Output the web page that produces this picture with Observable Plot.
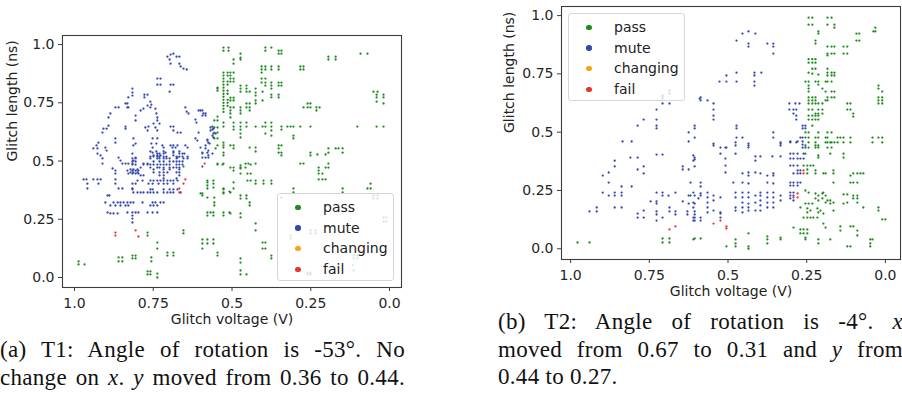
<!DOCTYPE html>
<html>
<head>
<meta charset="utf-8">
<script src="https://cdn.jsdelivr.net/npm/d3@7"></script>
<script src="https://cdn.jsdelivr.net/npm/@observablehq/plot@0.6"></script>
<style>
  html, body { margin: 0; padding: 0; background: #fff; overflow: hidden; }
  #fig { position: relative; width: 902px; height: 393px; overflow: hidden; }
  .panel { position: absolute; top: 0; }
  .legend { position: absolute; box-sizing: border-box; width: 117px; height: 88px;
    border: 1px solid #d6d6d6; border-radius: 3px; background: rgba(255,255,255,0.8);
    font: 14px "DejaVu Sans", sans-serif; color: #222; padding-top: 3px; }
  .legend .row { position: relative; height: 20.7px; line-height: 20.7px; }
  .legend .sw { position: absolute; left: 17px; top: 7.6px; width: 5.5px; height: 5.5px; border-radius: 50%; }
  .legend .lb { position: absolute; left: 45px; top: 0; }
  .caption { position: absolute; width: 405px; font: 23px "Liberation Serif", serif;
    line-height: 27.6px; color: #111; letter-spacing: 0.3px; }
  .caption .j { text-align: justify; text-align-last: justify; }
  .caption .l { text-align: left; }
</style>
</head>
<body>
<div id="fig"></div>
<script>
// Outcome categories of the glitch campaign and their colours
const statuses = ["pass", "mute", "changing", "fail"];
const statusColors = ["#1e8a1e", "#3447b2", "#f5a31c", "#e3372b"];

// Axis ticks (voltage axis runs from 1.0 down to 0.0)
const xTicks = [1.0, 0.75, 0.5, 0.25, 0.0];
const xTickLabels = ["1.0", "0.75", "0.5", "0.25", "0.0"];
const yTicks = [0.0, 0.25, 0.5, 0.75, 1.0];
const yTickLabels = ["0.0", "0.25", "0.5", "0.75", "1.0"];

// T1 measurements: [glitch voltage (V), glitch length (ns)]
const t1Pass = [
  [0.987,0.069],[0.987,0.056],[0.968,0.056],
  [0.860,0.086],[0.848,0.086],[0.860,0.069],[0.848,0.069],
  [0.816,0.094],[0.806,0.094],[0.816,0.082],[0.806,0.082],
  [0.768,0.193],[0.768,0.180],[0.756,0.086],[0.756,0.069],
  [0.768,0.026],[0.759,0.026],[0.768,0.013],[0.759,0.013],[0.737,0.017],[0.737,0.000],
  [0.737,0.150],[0.737,0.124],
  [0.705,0.107],[0.705,0.094],[0.686,0.107],[0.686,0.094],
  [0.654,0.202],[0.654,0.189],[0.654,0.476],
  [0.594,0.361],[0.594,0.352],[0.578,0.408],[0.578,0.395],[0.578,0.382],[0.559,0.403],[0.559,0.386],
  [0.578,0.343],[0.556,0.343],[0.556,0.322],[0.556,0.309],
  [0.578,0.279],[0.568,0.279],[0.578,0.266],[0.559,0.279],[0.559,0.266],
  [0.527,0.378],[0.527,0.361],[0.508,0.369],
  [0.527,0.279],[0.527,0.266],[0.508,0.279],
  [0.594,0.163],[0.594,0.146],[0.578,0.163],[0.578,0.146],[0.559,0.163],[0.559,0.146],[0.594,0.124],
  [0.546,0.107],[0.546,0.094],
  [0.546,0.485],[0.530,0.485],
  [0.527,0.987],[0.527,0.974],[0.511,0.987],[0.511,0.974],
  [0.527,0.880],[0.527,0.867],[0.527,0.854],[0.527,0.841],[0.527,0.828],[0.527,0.815],[0.527,0.802],
  [0.527,0.789],[0.527,0.776],[0.527,0.763],[0.527,0.750],[0.527,0.737],[0.527,0.724],[0.527,0.711],
  [0.514,0.880],[0.514,0.867],[0.514,0.841],[0.514,0.828],[0.514,0.802],[0.514,0.789],[0.514,0.763],[0.514,0.750],[0.514,0.737],
  [0.505,0.880],[0.505,0.867],[0.505,0.854],[0.505,0.841],[0.505,0.772],[0.505,0.760],[0.505,0.730],[0.505,0.717],[0.505,0.704],[0.505,0.687],
  [0.495,0.880],[0.495,0.854],[0.495,0.841],[0.495,0.772],[0.495,0.760],[0.495,0.730],
  [0.546,0.815],[0.546,0.802],
  [0.556,0.674],[0.546,0.674],[0.556,0.644],[0.546,0.644],[0.556,0.622],[0.546,0.622],[0.556,0.597],[0.546,0.597],
  [0.594,0.532],[0.546,0.489],[0.527,0.558],
  [0.473,0.961],[0.473,0.944],[0.473,0.936],[0.495,0.936],[0.495,0.918],
  [0.394,0.987],[0.394,0.974],[0.375,0.987],
  [0.352,0.974],[0.343,0.974],[0.352,0.961],[0.343,0.961],
  [0.194,0.948],[0.194,0.936],[0.171,0.948],[0.171,0.936],
  [0.092,0.961],[0.070,0.961],
  [0.406,0.906],[0.394,0.906],[0.406,0.893],[0.394,0.893],[0.406,0.880],[0.375,0.906],[0.375,0.893],[0.352,0.906],[0.352,0.893],
  [0.283,0.906],[0.273,0.906],[0.283,0.893],[0.273,0.893],
  [0.546,0.811],
  [0.473,0.824],[0.473,0.811],[0.473,0.798],[0.454,0.824],[0.454,0.811],[0.454,0.798],[0.444,0.798],
  [0.425,0.811],[0.425,0.794],[0.425,0.781],[0.425,0.760],[0.425,0.747],[0.403,0.798],[0.403,0.760],
  [0.406,0.854],[0.394,0.854],[0.406,0.837],[0.394,0.837],[0.394,0.824],[0.375,0.837],[0.375,0.824],[0.375,0.811],
  [0.352,0.837],[0.343,0.837],[0.352,0.824],[0.343,0.824],
  [0.375,0.785],[0.375,0.773],[0.352,0.785],[0.352,0.773],
  [0.454,0.747],[0.444,0.747],[0.454,0.730],[0.444,0.730],[0.444,0.717],
  [0.473,0.730],[0.473,0.717],[0.473,0.704],
  [0.273,0.730],[0.260,0.747],[0.251,0.747],[0.260,0.730],[0.251,0.730],[0.232,0.730],[0.222,0.730],[0.232,0.717],
  [0.051,0.798],[0.038,0.798],[0.041,0.785],[0.041,0.773],[0.041,0.755],[0.019,0.785],[0.019,0.773],[0.019,0.747],
  [0.546,0.691],
  [0.527,0.665],[0.527,0.648],[0.495,0.665],[0.495,0.648],[0.495,0.635],[0.473,0.665],[0.473,0.648],[0.473,0.635],
  [0.473,0.618],[0.473,0.601],[0.454,0.665],[0.454,0.648],
  [0.425,0.648],[0.403,0.648],[0.394,0.665],[0.394,0.648],[0.375,0.665],[0.375,0.648],[0.375,0.631],[0.375,0.609],
  [0.394,0.618],[0.343,0.648],[0.343,0.635],
  [0.324,0.648],[0.314,0.648],[0.305,0.648],[0.283,0.648],[0.251,0.648],[0.305,0.609],[0.305,0.597],
  [0.102,0.648],[0.041,0.648],[0.019,0.648],
  [0.546,0.567],[0.527,0.579],[0.527,0.567],[0.505,0.567],[0.495,0.567],[0.495,0.554],[0.552,0.554],
  [0.527,0.536],[0.527,0.524],
  [0.444,0.558],[0.425,0.558],[0.425,0.541],
  [0.352,0.567],[0.343,0.567],[0.352,0.554],[0.352,0.536],[0.343,0.536],[0.343,0.524],
  [0.251,0.536],[0.251,0.524],[0.229,0.528],
  [0.194,0.554],[0.194,0.536],[0.203,0.528],[0.171,0.554],[0.162,0.554],[0.149,0.554],[0.149,0.536],
  [0.527,0.489],
  [0.457,0.489],[0.448,0.489],[0.425,0.489],[0.457,0.472],
  [0.505,0.472],[0.495,0.472],[0.473,0.472],
  [0.283,0.489],[0.273,0.489],[0.225,0.472],[0.203,0.472],[0.194,0.472],[0.194,0.489],
  [0.495,0.459],[0.473,0.481],[0.473,0.468],[0.473,0.446],[0.441,0.485],[0.451,0.446],[0.441,0.446],
  [0.225,0.459],[0.225,0.446],[0.213,0.446],
  [0.578,0.416],[0.559,0.416],[0.495,0.408],[0.451,0.416],[0.441,0.416],[0.425,0.416],[0.425,0.403],
  [0.400,0.416],[0.400,0.403],[0.375,0.416],[0.375,0.403],
  [0.225,0.421],[0.213,0.421],[0.203,0.421],
  [0.600,0.361],[0.527,0.382],[0.527,0.365],[0.505,0.365],[0.495,0.382],
  [0.473,0.352],[0.473,0.339],[0.454,0.352],[0.454,0.339],[0.444,0.322],[0.444,0.309],
  [0.305,0.382],[0.305,0.365],
  [0.149,0.382],[0.149,0.365],[0.070,0.382],[0.060,0.403],[0.060,0.382],
  [0.505,0.275],[0.473,0.275],[0.473,0.258],
  [0.425,0.232],[0.425,0.202],
  [0.403,0.150],[0.394,0.150],[0.403,0.124],[0.394,0.124],
  [0.375,0.094],[0.375,0.082],
  [0.473,0.082],[0.473,0.064],
  [0.473,0.030],[0.454,0.013],[0.473,0.013],
  [0.343,0.343],[0.051,0.352],[0.038,0.352],[0.051,0.339],[0.038,0.339],
  [0.019,0.258],[0.010,0.258],[0.019,0.240],[0.010,0.240],
  [0.251,0.202],[0.235,0.202],[0.251,0.189],[0.235,0.189],[0.314,0.180],[0.314,0.167],
  [0.114,0.094],[0.102,0.094],[0.114,0.082],[0.102,0.082],
  [0.117,0.052],[0.114,0.030],
  [0.260,0.021],[0.251,0.021],[0.260,0.013],[0.251,0.013]
];
const t1Mute = [
  [0.705,0.948],[0.695,0.957],[0.686,0.961],[0.676,0.948],[0.667,0.948],
  [0.698,0.936],[0.695,0.918],
  [0.667,0.918],[0.663,0.906],[0.654,0.897],[0.644,0.893],
  [0.737,0.854],[0.727,0.854],[0.737,0.828],[0.727,0.828],
  [0.695,0.828],[0.686,0.828],[0.698,0.798],
  [0.816,0.811],[0.816,0.794],[0.816,0.781],
  [0.829,0.773],[0.832,0.747],[0.829,0.730],
  [0.778,0.785],[0.768,0.785],[0.778,0.773],
  [0.759,0.755],[0.756,0.742],[0.759,0.730],
  [0.838,0.747],[0.832,0.730],[0.870,0.730],[0.860,0.730],
  [0.886,0.704],[0.892,0.687],
  [0.908,0.639],[0.898,0.639],[0.892,0.652],[0.911,0.622],
  [0.838,0.648],[0.838,0.639],[0.806,0.695],[0.806,0.674],
  [0.790,0.717],[0.781,0.725],[0.768,0.738],
  [0.743,0.725],[0.740,0.704],[0.737,0.687],[0.737,0.674],[0.730,0.661],
  [0.749,0.661],[0.743,0.644],[0.737,0.631],
  [0.775,0.644],[0.765,0.648],[0.768,0.631],
  [0.695,0.648],[0.686,0.648],[0.686,0.631],[0.673,0.622],[0.663,0.622],
  [0.648,0.730],[0.644,0.712],[0.638,0.704],
  [0.616,0.678],[0.613,0.665],
  [0.606,0.717],[0.594,0.717],[0.594,0.695],[0.584,0.695],
  [0.606,0.622],
  [0.568,0.644],[0.559,0.639],[0.568,0.631],
  [0.616,0.597],[0.610,0.588],
  [0.870,0.597],[0.870,0.579],
  [0.924,0.579],[0.930,0.567],[0.927,0.554],[0.940,0.554],[0.927,0.532],
  [0.902,0.558],[0.898,0.545],
  [0.813,0.597],[0.806,0.575],[0.813,0.567],
  [0.752,0.597],[0.737,0.597],[0.740,0.575],[0.756,0.575],
  [0.721,0.567],[0.717,0.558],[0.711,0.536],
  [0.695,0.567],[0.686,0.567],[0.673,0.567],[0.689,0.558],[0.679,0.558],
  [0.648,0.567],[0.641,0.558],
  [0.600,0.558],[0.594,0.536],[0.584,0.515],[0.575,0.524],
  [0.578,0.588],[0.571,0.575],[0.562,0.609],[0.559,0.618],
  [0.752,0.558],[0.752,0.536],[0.749,0.524],[0.737,0.524],[0.727,0.524],
  [0.686,0.536],[0.686,0.524],[0.673,0.515],
  [0.917,0.524],[0.911,0.511],[0.911,0.489],
  [0.860,0.515],[0.854,0.502],[0.848,0.489],[0.838,0.489],[0.829,0.489],[0.816,0.489],[0.813,0.502],[0.806,0.515],
  [0.781,0.489],[0.768,0.489],[0.790,0.472],
  [0.879,0.468],[0.870,0.459],[0.870,0.446],
  [0.832,0.459],[0.816,0.459],[0.806,0.459],[0.797,0.459],[0.829,0.446],[0.816,0.446],[0.806,0.446],[0.797,0.446],
  [0.971,0.421],[0.962,0.421],[0.959,0.403],[0.940,0.421],[0.927,0.421],[0.917,0.421],[0.924,0.403],[0.959,0.382],
  [0.870,0.421],[0.870,0.403],
  [0.816,0.403],[0.806,0.403],[0.800,0.416],
  [0.784,0.416],[0.759,0.416],[0.749,0.416],[0.737,0.416],[0.727,0.416],[0.717,0.416],[0.705,0.416],[0.695,0.416],[0.686,0.416],[0.673,0.416],
  [0.765,0.403],[0.752,0.403],[0.733,0.403],[0.717,0.403],[0.705,0.403],[0.686,0.403],
  [0.860,0.382],[0.848,0.382],
  [0.816,0.382],[0.813,0.365],[0.800,0.365],[0.790,0.365],
  [0.781,0.365],[0.768,0.365],[0.759,0.365],[0.749,0.365],[0.737,0.365],[0.717,0.365],[0.705,0.365],[0.695,0.365],[0.686,0.365],[0.663,0.365],
  [0.895,0.352],[0.889,0.352],
  [0.902,0.322],[0.876,0.322],[0.863,0.322],[0.854,0.322],[0.844,0.322],[0.832,0.322],[0.822,0.322],[0.813,0.322],
  [0.784,0.322],[0.752,0.322],[0.743,0.322],[0.727,0.322],[0.717,0.322],
  [0.886,0.309],[0.870,0.309],[0.854,0.309],[0.838,0.309],[0.829,0.309],[0.759,0.309],[0.749,0.309],[0.737,0.309],
  [0.895,0.279],[0.886,0.275],[0.876,0.275],[0.863,0.275],
  [0.832,0.279],[0.816,0.279],[0.806,0.279],[0.797,0.279],[0.768,0.279],[0.752,0.279],[0.737,0.279],
  [0.816,0.266],[0.816,0.253],[0.816,0.236],
  [0.759,0.541],[0.740,0.541],[0.717,0.541],[0.686,0.541],[0.667,0.541],
  [0.816,0.532],[0.737,0.532],[0.730,0.532],[0.717,0.532],[0.667,0.532],[0.657,0.532],[0.651,0.532],
  [0.759,0.519],[0.749,0.519],[0.737,0.519],[0.730,0.519],[0.717,0.519],[0.708,0.519],[0.676,0.519],[0.667,0.519],[0.657,0.519],[0.641,0.519],
  [0.816,0.511],[0.806,0.511],[0.759,0.511],[0.737,0.511],[0.730,0.511],[0.717,0.511],[0.708,0.511],[0.698,0.511],[0.676,0.511],[0.654,0.511],[0.641,0.511],
  [0.816,0.498],[0.806,0.498],[0.749,0.498],[0.730,0.498],[0.717,0.498],[0.698,0.498],[0.686,0.498],[0.676,0.498],[0.667,0.498],[0.657,0.498],
  [0.816,0.485],[0.806,0.485],[0.781,0.485],[0.768,0.485],[0.759,0.485],[0.749,0.485],[0.737,0.485],[0.727,0.485],[0.717,0.485],
  [0.708,0.485],[0.698,0.485],[0.676,0.485],[0.667,0.485],[0.657,0.485],
  [0.759,0.472],[0.737,0.472],[0.730,0.472],[0.717,0.472],[0.698,0.472],[0.686,0.472],[0.676,0.472],[0.667,0.472],
  [0.822,0.464],[0.813,0.464],[0.800,0.464],[0.749,0.464],[0.717,0.464],[0.698,0.464],[0.667,0.464],
  [0.822,0.451],[0.813,0.451],[0.800,0.451],[0.749,0.451],[0.730,0.451],[0.717,0.451],[0.705,0.451],[0.676,0.451],[0.667,0.451],
  [0.790,0.438],[0.781,0.438],[0.730,0.438],[0.717,0.438],[0.667,0.438],
  [0.717,0.425],[0.676,0.425],
  [0.816,0.378],[0.759,0.378],[0.752,0.378],[0.717,0.378],[0.698,0.378],[0.686,0.378],[0.673,0.378],
  [0.600,0.717],[0.591,0.704],[0.584,0.704],[0.562,0.648],[0.562,0.635],[0.552,0.618],[0.559,0.601],
  [0.578,0.592],[0.575,0.579],[0.584,0.567],[0.584,0.554],[0.575,0.545],[0.578,0.536],[0.562,0.532],
  [0.594,0.515],[0.575,0.515],[0.594,0.476]
];
const t1Changing = [];
const t1Fail = [
  [0.870,0.193],[0.870,0.180],[0.806,0.202],[0.797,0.176],
  [0.667,0.382],[0.667,0.365],[0.654,0.403],[0.648,0.421],[0.587,0.489]
];

// T2 measurements: [glitch voltage (V), glitch length (ns)]
const t2Pass = [
  [0.978,0.027],[0.940,0.027],[0.708,0.044],[0.708,0.027],[0.686,0.044],[0.686,0.027],[0.606,0.044],[0.587,0.044],
  [0.610,0.040],[0.505,0.010],[0.476,0.040],[0.476,0.023],[0.476,0.010],
  [0.435,0.066],[0.435,0.010],[0.435,0.000],[0.375,0.053],[0.375,0.040],[0.375,0.023],[0.333,0.048],[0.333,0.040],
  [0.292,0.091],[0.270,0.083],[0.260,0.083],[0.248,0.083],[0.270,0.066],[0.260,0.066],[0.248,0.066],[0.254,0.048],[0.254,0.040],
  [0.213,0.040],[0.213,0.023],[0.175,0.040],[0.143,0.096],[0.143,0.078],[0.111,0.096],[0.102,0.096],[0.089,0.078],[0.089,0.057],
  [0.121,0.010],[0.111,0.010],[0.048,0.040],[0.041,0.040],[0.048,0.010],[0.048,0.023],
  [0.260,0.134],[0.248,0.134],[0.238,0.134],[0.229,0.134],[0.216,0.134],[0.197,0.151],[0.197,0.108],[0.190,0.091],
  [0.010,0.126],[0.000,0.126],
  [0.270,0.177],[0.248,0.173],[0.248,0.156],[0.238,0.164],[0.216,0.173],[0.213,0.156],[0.206,0.164],[0.165,0.164],
  [0.070,0.177],[0.022,0.177],[0.022,0.164],[0.133,0.194],[0.121,0.198],
  [0.254,0.250],[0.244,0.241],[0.222,0.237],[0.213,0.228],[0.200,0.237],[0.197,0.241],[0.190,0.228],[0.184,0.207],
  [0.175,0.207],[0.165,0.198],[0.213,0.207],[0.222,0.216],[0.200,0.216],[0.190,0.198],[0.254,0.194],[0.244,0.194],
  [0.232,0.194],[0.175,0.194],
  [0.133,0.233],[0.121,0.233],[0.102,0.228],[0.089,0.228],[0.102,0.216],[0.089,0.216],[0.089,0.198],
  [0.260,0.357],[0.248,0.357],[0.238,0.357],[0.229,0.357],[0.248,0.340],[0.248,0.323],[0.222,0.336],[0.222,0.323],
  [0.197,0.323],[0.190,0.323],[0.165,0.336],[0.165,0.323],[0.165,0.284],[0.111,0.314],[0.102,0.323],[0.089,0.323],
  [0.079,0.323],[0.070,0.323],[0.111,0.284],[0.102,0.284],[0.089,0.284],
  [0.254,0.408],[0.213,0.400],[0.213,0.391],[0.175,0.408],[0.133,0.408],[0.133,0.391],
  [0.254,0.443],[0.222,0.443],[0.222,0.456],[0.213,0.443],[0.190,0.456],[0.175,0.456],[0.152,0.456],[0.133,0.456],
  [0.111,0.456],[0.041,0.456],[0.010,0.456],
  [0.244,0.991],[0.232,0.991],[0.244,0.961],[0.232,0.961],
  [0.184,0.991],[0.171,0.991],[0.184,0.961],[0.162,0.961],[0.162,0.948],
  [0.213,0.932],[0.213,0.923],
  [0.032,0.948],[0.038,0.932],[0.032,0.932],
  [0.092,0.923],[0.083,0.923],[0.092,0.893],[0.083,0.893],
  [0.222,0.893],[0.222,0.880],
  [0.184,0.867],[0.171,0.867],[0.162,0.867],[0.133,0.867],[0.121,0.867],
  [0.184,0.837],[0.171,0.837],[0.162,0.837],[0.133,0.837],[0.121,0.837],[0.184,0.829],
  [0.244,0.813],[0.232,0.813],[0.222,0.813],[0.244,0.798],[0.232,0.798],[0.222,0.798],
  [0.232,0.772],[0.222,0.772],[0.244,0.755],[0.232,0.751],[0.213,0.747],
  [0.184,0.772],[0.184,0.755],[0.171,0.755],[0.162,0.755],[0.184,0.743],[0.171,0.743],[0.162,0.743],
  [0.254,0.717],[0.244,0.717],[0.244,0.700],[0.244,0.687],[0.244,0.674],[0.222,0.717],[0.213,0.717],[0.213,0.704],
  [0.190,0.717],[0.184,0.717],[0.171,0.717],[0.200,0.687],[0.190,0.674],[0.171,0.674],[0.162,0.674],
  [0.022,0.700],[0.022,0.687],[0.010,0.674],
  [0.244,0.649],[0.232,0.649],[0.222,0.649],[0.184,0.649],[0.171,0.649],[0.162,0.649],
  [0.244,0.636],[0.232,0.636],[0.222,0.636],[0.190,0.636],[0.184,0.636],
  [0.244,0.623],[0.232,0.623],[0.222,0.623],[0.213,0.623],[0.200,0.623],
  [0.022,0.649],[0.010,0.649],[0.022,0.636],[0.010,0.636],[0.022,0.623],[0.010,0.623],
  [0.121,0.623],[0.111,0.623],[0.121,0.597],[0.111,0.597],[0.102,0.580],[0.102,0.567],
  [0.244,0.597],[0.232,0.597],[0.213,0.597],[0.200,0.597],
  [0.222,0.580],[0.213,0.580],[0.200,0.580],
  [0.244,0.571],[0.232,0.571],[0.222,0.571],[0.213,0.571],
  [0.244,0.554],[0.232,0.554],[0.222,0.554],[0.213,0.554],
  [0.232,0.528],
  [0.254,0.499],[0.244,0.499],[0.213,0.499],[0.184,0.499],[0.171,0.499],
  [0.254,0.477],[0.244,0.477],[0.222,0.477],[0.213,0.477],[0.190,0.477],[0.184,0.477],[0.152,0.477],[0.143,0.477],
  [0.133,0.477],[0.111,0.477],[0.041,0.477],[0.022,0.477],[0.010,0.477],
  [0.244,0.456],[0.184,0.456],[0.171,0.456],[0.162,0.456],
  [0.244,0.434],[0.222,0.434],[0.213,0.434],[0.184,0.434],[0.171,0.434]
];
const t2Mute = [
  [0.835,0.460],[0.806,0.460],[0.787,0.528],[0.768,0.554],[0.727,0.597],[0.727,0.554],[0.727,0.528],[0.727,0.516],
  [0.708,0.623],[0.708,0.644],[0.708,0.657],[0.686,0.623],[0.686,0.678],[0.686,0.665],[0.708,0.653],
  [0.625,0.499],[0.625,0.460],[0.606,0.528],[0.606,0.516],[0.606,0.477],[0.590,0.644],
  [0.810,0.391],[0.787,0.391],[0.727,0.404],[0.708,0.404],[0.860,0.378],[0.860,0.353],[0.879,0.327],[0.898,0.314],
  [0.787,0.340],[0.768,0.353],[0.768,0.323],[0.644,0.353],[0.644,0.340],[0.625,0.340],[0.606,0.353],[0.606,0.383],[0.606,0.391],
  [0.879,0.284],[0.838,0.267],[0.860,0.241],[0.860,0.228],[0.838,0.241],[0.838,0.228],[0.806,0.267],[0.879,0.228],
  [0.898,0.241],[0.860,0.177],[0.838,0.177],[0.940,0.160],[0.917,0.177],[0.917,0.160],
  [0.787,0.151],[0.787,0.134],[0.768,0.164],[0.768,0.134],[0.746,0.203],[0.727,0.241],[0.727,0.203],[0.727,0.194],
  [0.708,0.241],[0.708,0.228],[0.727,0.160],[0.727,0.147],[0.727,0.121],[0.708,0.134],[0.689,0.228],[0.686,0.177],
  [0.686,0.160],[0.667,0.241],[0.667,0.160],[0.667,0.147],[0.644,0.203],[0.625,0.228],[0.625,0.194],[0.606,0.228],
  [0.594,0.216],[0.606,0.194],[0.606,0.160],[0.606,0.147],[0.606,0.134],[0.606,0.121],[0.587,0.267],[0.587,0.228],
  [0.587,0.134],[0.629,0.160],[0.629,0.147],
  [0.546,0.443],[0.524,0.434],[0.508,0.434],[0.476,0.456],[0.476,0.443],[0.435,0.443],[0.435,0.434],
  [0.333,0.451],[0.302,0.460],[0.279,0.460],
  [0.610,0.400],[0.610,0.378],[0.524,0.408],[0.508,0.387],[0.476,0.408],[0.413,0.396],[0.413,0.378],[0.397,0.396],
  [0.359,0.396],[0.333,0.396],
  [0.508,0.357],[0.508,0.327],[0.454,0.323],[0.435,0.327],[0.435,0.314],[0.413,0.327],[0.397,0.323],[0.375,0.314],
  [0.356,0.323],[0.356,0.314],
  [0.619,0.284],[0.587,0.284],[0.610,0.241],[0.587,0.237],
  [0.565,0.241],[0.565,0.220],[0.565,0.198],[0.565,0.177],[0.565,0.156],[0.546,0.228],[0.546,0.207],[0.546,0.164],
  [0.524,0.220],[0.524,0.156],[0.619,0.228],[0.610,0.198],[0.610,0.177],[0.610,0.134],[0.610,0.121],[0.587,0.121],
  [0.524,0.151],[0.524,0.134],
  [0.483,0.284],[0.476,0.241],[0.476,0.220],[0.476,0.177],[0.476,0.164],
  [0.454,0.284],[0.454,0.241],[0.454,0.220],[0.454,0.198],[0.454,0.177],[0.454,0.156],
  [0.435,0.280],[0.435,0.241],[0.435,0.220],[0.435,0.194],[0.435,0.177],[0.435,0.164],
  [0.413,0.228],[0.413,0.198],[0.413,0.164],
  [0.397,0.241],[0.397,0.228],[0.397,0.207],[0.397,0.186],[0.397,0.164],
  [0.375,0.284],[0.375,0.241],[0.375,0.220],[0.375,0.198],[0.375,0.177],
  [0.356,0.280],[0.356,0.241],[0.356,0.220],[0.356,0.198],[0.356,0.177],
  [0.333,0.228],[0.333,0.207],
  [0.302,0.408],[0.292,0.408],[0.279,0.408],[0.260,0.408],
  [0.302,0.387],[0.292,0.387],[0.279,0.387],[0.270,0.387],[0.260,0.387],
  [0.302,0.357],[0.292,0.357],[0.279,0.357],[0.279,0.336],[0.270,0.336],
  [0.292,0.323],[0.279,0.323],[0.270,0.323],
  [0.302,0.284],[0.292,0.284],[0.279,0.284],[0.270,0.284],
  [0.302,0.271],[0.292,0.271],[0.279,0.271],
  [0.302,0.241],[0.292,0.241],[0.302,0.228],[0.292,0.228],[0.302,0.216],[0.292,0.207],
  [0.454,0.923],[0.435,0.932],[0.413,0.923],[0.473,0.893],[0.435,0.880],[0.435,0.867],
  [0.375,0.880],[0.356,0.880],[0.356,0.867],[0.356,0.837],
  [0.505,0.743],[0.473,0.755],[0.416,0.755],[0.394,0.755],[0.416,0.743],
  [0.527,0.717],[0.505,0.717],[0.473,0.717],[0.416,0.717],[0.416,0.700],
  [0.587,0.649],[0.587,0.636],[0.565,0.636],
  [0.546,0.623],[0.546,0.597],[0.546,0.571],[0.546,0.554],
  [0.305,0.623],[0.286,0.623],[0.273,0.623],[0.305,0.597],[0.292,0.597],[0.283,0.597],[0.292,0.580],[0.283,0.571],[0.283,0.554],
  [0.473,0.528],[0.473,0.516],[0.473,0.477],[0.454,0.477],
  [0.356,0.499],[0.356,0.477],[0.333,0.456],[0.333,0.443],[0.302,0.456],[0.283,0.456],
  [0.546,0.451],[0.505,0.434],[0.435,0.451],
  [0.263,0.528],[0.254,0.528],[0.263,0.516],[0.254,0.516],[0.270,0.477],[0.263,0.477],
  [0.263,0.460],[0.263,0.447],[0.263,0.434],[0.254,0.434]
];
const t2Changing = [];
const t2Fail = [
  [0.686,0.083],[0.667,0.096],[0.260,0.336],[0.260,0.323],[0.292,0.220],[0.279,0.220],[0.279,0.237],
  [0.546,0.108],[0.524,0.121],[0.505,0.096],[0.505,0.087]
];

// Caption lines for each sub-figure
const captionT1 = ["(a) T1: Angle of rotation is -53°. No", "change on <i>x</i>. <i>y</i> moved from 0.36 to 0.44."];
const captionT2 = ["(b) T2: Angle of rotation is -4°. <i>x</i>", "moved from 0.67 to 0.31 and <i>y</i> from", "0.44 to 0.27."];

function toRows(groups) {
  return statuses.flatMap((s, i) => groups[i].map(([v, l]) => ({v, l, s})));
}

function scatter({data, xDomain, yDomain, width, height, margins, yLabelDx}) {
  return Plot.plot({
    width, height, ...margins,
    style: {fontFamily: "DejaVu Sans", fontSize: "14px", color: "#262626", background: "transparent", overflow: "visible"},
    x: {domain: xDomain},
    y: {domain: yDomain},
    color: {domain: statuses, range: statusColors},
    marks: [
      Plot.dot(data, {x: "v", y: "l", fill: "s", r: 1.15}),
      Plot.frame({stroke: "#3c3c3c", strokeWidth: 1.1}),
      Plot.axisX({ticks: xTicks, tickFormat: d => xTickLabels[xTicks.indexOf(d)], tickSize: 4, tickPadding: 7,
        fontSize: 14, label: null, anchor: "bottom", stroke: "#3c3c3c"}),
      Plot.axisY({ticks: yTicks, tickFormat: d => yTickLabels[yTicks.indexOf(d)], tickSize: 4, tickPadding: 4,
        fontSize: 14, label: null, anchor: "left", stroke: "#3c3c3c"}),
      Plot.text(["Glitch voltage (V)"], {text: d => d, frameAnchor: "bottom", dy: 36, fontSize: 14, fill: "#222"}),
      Plot.text(["Glitch length (ns)"], {text: d => d, frameAnchor: "left", dx: yLabelDx, rotate: -90, fontSize: 14, fill: "#222"})
    ]
  });
}

function legend(left, top) {
  const box = document.createElement("div");
  box.className = "legend";
  box.style.left = left + "px";
  box.style.top = top + "px";
  statuses.forEach((s, i) => {
    const row = document.createElement("div");
    row.className = "row";
    row.innerHTML = `<span class="sw" style="background:${statusColors[i]}"></span><span class="lb">${s}</span>`;
    box.appendChild(row);
  });
  return box;
}

function caption(lines, left, top) {
  const c = document.createElement("div");
  c.className = "caption";
  c.style.left = left + "px";
  c.style.top = top + "px";
  c.innerHTML = lines.map((t, i) => {
    const last = i === lines.length - 1 && lines.length > 2;
    return `<div class="${last ? "l" : "j"}">${t}</div>`;
  }).join("");
  return c;
}

const fig = document.getElementById("fig");

const p1 = document.createElement("div");
p1.className = "panel";
p1.style.left = "0px";
p1.appendChild(scatter({
  data: toRows([t1Pass, t1Mute, t1Changing, t1Fail]),
  xDomain: [1.038, -0.038], yDomain: [-0.043, 1.039],
  width: 410, height: 335,
  margins: {marginLeft: 62, marginRight: 9, marginTop: 35, marginBottom: 48},
  yLabelDx: -50
}));
fig.appendChild(p1);

const p2 = document.createElement("div");
p2.className = "panel";
p2.style.left = "490px";
p2.appendChild(scatter({
  data: toRows([t2Pass, t2Mute, t2Changing, t2Fail]),
  xDomain: [1.029, -0.048], yDomain: [-0.046, 1.039],
  width: 412, height: 305,
  margins: {marginLeft: 71, marginRight: 2, marginTop: 6, marginBottom: 46},
  yLabelDx: -52
}));
fig.appendChild(p2);

fig.appendChild(legend(277, 193));
fig.appendChild(legend(568, 13));
fig.appendChild(caption(captionT1, 0, 336));
fig.appendChild(caption(captionT2, 498, 308));
</script>
</body>
</html>
